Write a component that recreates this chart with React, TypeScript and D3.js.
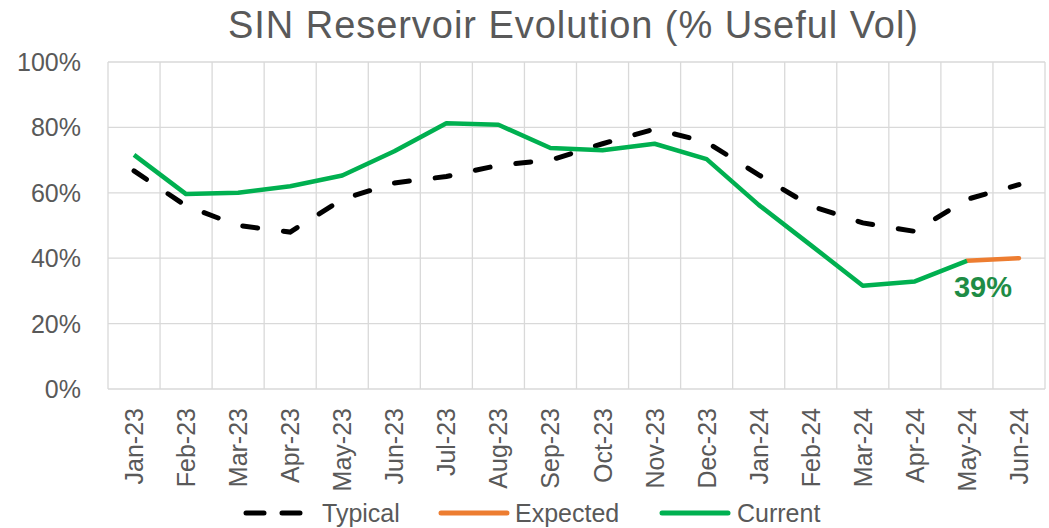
import React, { useEffect, useRef } from "react";
import * as d3 from "d3";

const months = [
  "Jan-23", "Feb-23", "Mar-23", "Apr-23", "May-23", "Jun-23", "Jul-23", "Aug-23", "Sep-23",
  "Oct-23", "Nov-23", "Dec-23", "Jan-24", "Feb-24", "Mar-24", "Apr-24", "May-24", "Jun-24",
];
const typical = [66.7, 56, 50, 48, 58, 63, 65, 68.4, 70, 75, 79.5, 75.5, 65.5, 56, 50.8, 48.2, 58, 62.5];
const current: (number | null)[] = [71.6, 59.6, 60, 62, 65.3, 72.7, 81.3, 80.8, 73.7, 73, 75, 70.3, 56.3, 44, 31.6, 32.9, 39.2, null];
const expected: (number | null)[] = [null, null, null, null, null, null, null, null, null, null, null, null, null, null, null, null, 39.2, 40];
const yTicks = [0, 20, 40, 60, 80, 100];

const W = 1049;
const H = 528;
const margin = { left: 108, right: 4, top: 62, bottom: 139 };
const grey = "#595959";
const font = "'Liberation Sans', Arial, sans-serif";

const App = () => {
  const ref = useRef<SVGSVGElement>(null);

  useEffect(() => {
    const svg = d3.select(ref.current);
    svg.selectAll("*").remove();

    const x = d3.scaleBand().domain(months).range([margin.left, W - margin.right]);
    const y = d3.scaleLinear().domain([0, 100]).range([H - margin.bottom, margin.top]);
    const cx = (m: string) => (x(m) as number) + x.bandwidth() / 2;

    // title
    svg.append("text")
      .attr("x", 573).attr("y", 38)
      .attr("text-anchor", "middle")
      .attr("font-family", font).attr("font-size", 38)
      .attr("textLength", 690).attr("lengthAdjust", "spacing")
      .attr("fill", grey)
      .text("SIN Reservoir Evolution (% Useful Vol)");

    // gridlines
    svg.append("g").selectAll("line").data(yTicks).enter().append("line")
      .attr("x1", margin.left).attr("x2", W - margin.right)
      .attr("y1", d => y(d)).attr("y2", d => y(d))
      .attr("stroke", "#d9d9d9").attr("stroke-width", 1.3);
    svg.append("g").selectAll("line").data([...months.map(m => x(m) as number), W - margin.right]).enter().append("line")
      .attr("x1", d => d).attr("x2", d => d)
      .attr("y1", y(0)).attr("y2", y(100))
      .attr("stroke", "#d9d9d9").attr("stroke-width", 1.3);

    // y labels
    svg.append("g").selectAll("text").data(yTicks).enter().append("text")
      .attr("x", 81).attr("y", d => y(d) + 9)
      .attr("text-anchor", "end")
      .attr("font-family", font).attr("font-size", 25)
      .attr("fill", grey)
      .text(d => d + "%");

    // x labels
    svg.append("g").selectAll("text").data(months).enter().append("text")
      .attr("transform", d => `translate(${cx(d) + 9},${y(0) + 19}) rotate(-90)`)
      .attr("text-anchor", "end")
      .attr("font-family", font).attr("font-size", 25)
      .attr("fill", grey)
      .text(d => d);

    const line = d3.line<number | null>()
      .defined(d => d !== null)
      .x((_, i) => cx(months[i]))
      .y(d => y(d as number));

    svg.append("path").datum(typical as (number | null)[])
      .attr("d", line).attr("fill", "none")
      .attr("stroke", "#000").attr("stroke-width", 5)
      .attr("stroke-dasharray", "15 26").attr("stroke-linecap", "round");
    svg.append("path").datum(expected)
      .attr("d", line).attr("fill", "none")
      .attr("stroke", "#ED7D31").attr("stroke-width", 4.5)
      .attr("stroke-linecap", "round");
    svg.append("path").datum(current)
      .attr("d", line).attr("fill", "none")
      .attr("stroke", "#00B050").attr("stroke-width", 4.5)
      .attr("stroke-linejoin", "round");

    // data label
    const last = current[16] as number;
    svg.append("text")
      .attr("x", cx(months[16]) + 16).attr("y", 297)
      .attr("text-anchor", "middle")
      .attr("font-family", font).attr("font-size", 29).attr("font-weight", "bold")
      .attr("fill", "#1E8C45")
      .text(Math.round(last) + "%");

    // legend
    const ly = 513;
    const lg = svg.append("g").attr("font-family", font).attr("font-size", 25).attr("fill", grey);
    const items = [
      { name: "Typical", color: "#000", x0: 246, x1: 306, tx: 322, dash: "18 18" },
      { name: "Expected", color: "#ED7D31", x0: 441, x1: 507, tx: 515, dash: null },
      { name: "Current", color: "#00B050", x0: 662, x1: 728, tx: 737, dash: null },
    ];
    items.forEach(it => {
      lg.append("line")
        .attr("x1", it.x0).attr("x2", it.x1)
        .attr("y1", ly).attr("y2", ly)
        .attr("stroke", it.color).attr("stroke-width", 5)
        .attr("stroke-linecap", "round")
        .attr("stroke-dasharray", it.dash);
      lg.append("text")
        .attr("x", it.tx).attr("y", ly + 9)
        .text(it.name);
    });
  }, []);

  return (
    <svg
      ref={ref}
      width={W}
      height={H}
      style={{ position: "fixed", left: 0, top: 0, display: "block", background: "#fff" }}
    />
  );
};

export default App;
